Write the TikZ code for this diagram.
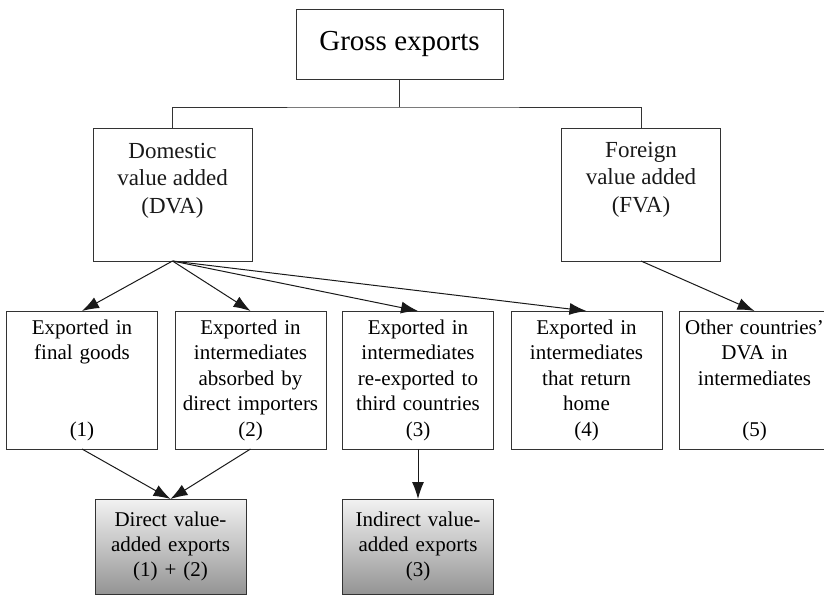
\documentclass[tikz,border=0pt]{standalone}
\usepackage{fontspec}
\setmainfont{Liberation Serif}
\usetikzlibrary{arrows.meta}
\begin{document}
\begin{tikzpicture}[x=1pt,y=-1pt,
  box/.style={draw=black!80, line width=1pt, inner sep=0pt, outer sep=0pt},
  rowbox/.style={box, minimum width=151pt, minimum height=138pt, text width=149pt, align=center, font=\fontsize{21}{25.5}\selectfont},
  graybox/.style={box, minimum width=151pt, minimum height=95pt, text width=149pt, align=center, top color=black!5, bottom color=black!42, font=\fontsize{21}{25}\selectfont},
  bigbox/.style={box, minimum width=159pt, minimum height=133pt},
  lbl/.style={anchor=north, inner sep=0pt, align=center, text=black!90, font=\fontsize{23}{27.5}\selectfont},
  arr/.style={-{Latex[length=17pt,width=12pt]}, line width=1pt, draw=black!90},
  conn/.style={line width=1pt, draw=black!80}]
\useasboundingbox (0,0) rectangle (824,597);

\node[box, minimum width=207pt, minimum height=70pt, font=\fontsize{29}{34}\selectfont] (gross) at (399.5,44) {Gross exports};

\node[bigbox] (dva) at (172.5,194.5) {};
\node[lbl] (dvat) at (172.5,143) {Domestic\\value added\\(DVA)};
\node[bigbox] (fva) at (641,194.5) {};
\node[lbl] (fvat) at (641,142) {Foreign\\value added\\(FVA)};

\coordinate (j) at (399.5,107);
\draw[conn] (gross.south) -- (j);
\draw[conn] (dva.north) |- (j) -| (fva.north);

\node[rowbox] (b1) at (82,380) {Exported in\\final goods\\~\\~\\(1)};
\node[rowbox] (b2) at (250.5,380) {Exported in\\intermediates\\absorbed by\\direct importers\\(2)};
\node[rowbox] (b3) at (418,380) {Exported in\\intermediates\\re-exported to\\third countries\\(3)};
\node[rowbox] (b4) at (586.5,380) {Exported in\\intermediates\\that return\\home\\(4)};
\node[rowbox] (b5) at (754.5,380) {Other countries'\\DVA in\\intermediates\\~\\(5)};

\node[graybox] (direct) at (170.5,546.5) {Direct value-\\added exports\\(1) + (2)};
\node[graybox] (indirect) at (418,546.5) {Indirect value-\\added exports\\(3)};

\draw[arr] (dva.south) -- (b1.north);
\draw[arr] (dva.south) -- (b2.north);
\draw[arr] (dva.south) -- (b3.north);
\draw[arr] (dva.south) -- (b4.north);
\draw[arr] (fva.south) -- (b5.north);
\draw[arr] (b1.south) -- (direct.north);
\draw[arr] (b2.south) -- (direct.north);
\draw[arr] (b3.south) -- (indirect.north);
\end{tikzpicture}
\end{document}
